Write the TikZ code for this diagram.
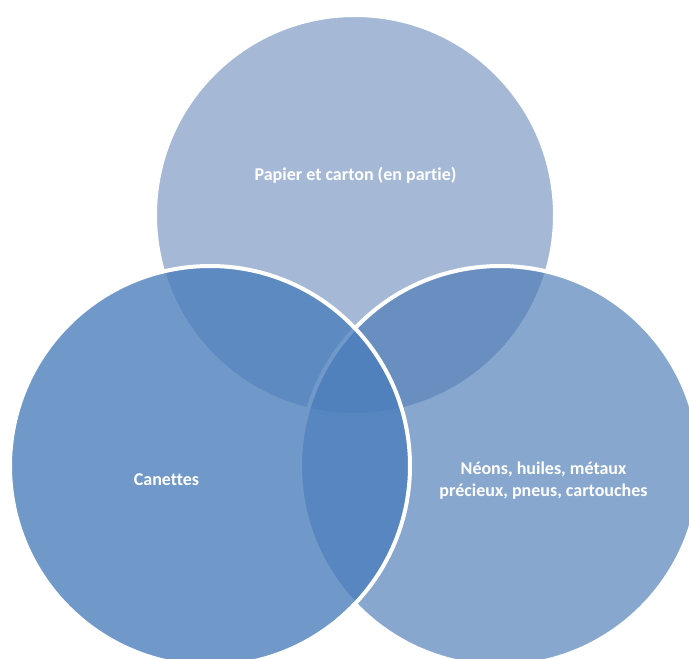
\documentclass[tikz,border=0pt]{standalone}
\usepackage{fontspec}
\setmainfont{Carlito}[Ligatures=NoCommon]
\definecolor{topfill}{RGB}{165,185,214}
\definecolor{rightfill}{RGB}{74,122,182}
\definecolor{leftfill}{RGB}{74,126,188}
\tikzset{
  venn/.style={draw=white, line width=4pt, draw opacity=1},
  lbl/.style={text=white, font=\bfseries\fontsize{18}{22}\selectfont, align=center, inner sep=0pt}
}
\begin{document}
\begin{tikzpicture}[x=1pt,y=-1pt]
\useasboundingbox (0,0) rectangle (689,659);
\begin{scope}
\clip (0,0) rectangle (689,659);
\path[venn, fill=topfill, fill opacity=1] (355,215) circle[radius=200];
\path[venn, fill=rightfill, fill opacity=0.657] (500,466) circle[radius=200];
\path[venn, fill=leftfill, fill opacity=0.79] (210,466) circle[radius=200];
\end{scope}
\node[lbl] (papier) at (355.5,175) {Papier et carton (en partie)};
\node[lbl] (canettes) at (166.5,480) {Canettes};
\node[lbl] (neons) at (543.5,481) {Néons, huiles, métaux\\précieux, pneus, cartouches};
\end{tikzpicture}
\end{document}
